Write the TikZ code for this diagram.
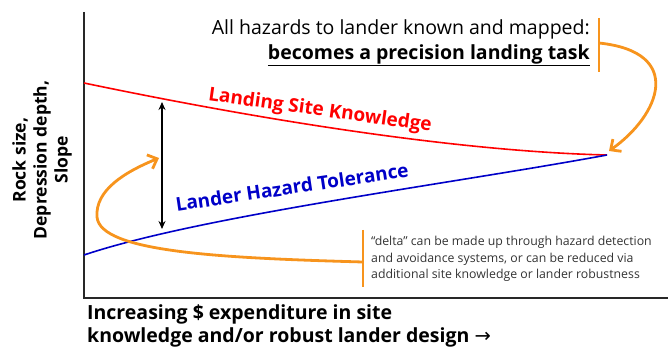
\documentclass[tikz,border=0pt]{standalone}
\usepackage{fontspec}
\setmainfont{Open Sans}
\newfontfamily\symfont{DejaVu Sans}
\usetikzlibrary{arrows.meta}
\definecolor{hazorange}{RGB}{247,148,29}
\definecolor{tolblue}{RGB}{0,0,200}
\definecolor{axisgray}{RGB}{40,40,40}
\tikzset{
  curvelabel/.style={font=\bfseries\fontsize{19}{21}\selectfont, inner sep=0pt},
  bracketline/.style={hazorange, line width=2.8pt},
  callout/.style={hazorange, line width=2.8pt, -{Straight Barb[length=8pt,width=15pt,line width=2.8pt]}},
}
\begin{document}
\begin{tikzpicture}[x=1pt,y=-1pt]
\useasboundingbox (0,0) rectangle (670,350);
% axes
\coordinate (ytop) at (84,12);
\coordinate (origin) at (84,298);
\coordinate (xend) at (668,298);
\draw[axisgray, line width=1.6pt] (ytop) -- (origin) -- (xend);
% curves
\coordinate (ks0) at (84,83);
\coordinate (meet) at (607,155);
\coordinate (lt0) at (84,255);
\draw[red, line width=1.6pt] (ks0) .. controls (300,128) and (480,152) .. (meet);
\draw[tolblue, line width=1.6pt] (lt0) .. controls (200,216) and (450,184) .. (meet);
\node[curvelabel, red, rotate=-8] (kslabel) at (320,111) {Landing Site Knowledge};
\node[curvelabel, tolblue, rotate=8.5] (ltlabel) at (292,187) {Lander Hazard Tolerance};
% delta
\coordinate (dtop) at (162,102);
\coordinate (dbot) at (162,229);
\draw[line width=1.4pt, {Stealth[length=8pt,width=7pt]}-{Stealth[length=8pt,width=7pt]}] (dtop) -- (dbot);
% top callout
\node[font=\fontsize{19.5}{25}\selectfont, align=right, anchor=east, inner sep=0pt] (tasktext) at (590,43)
  {All hazards to lander known and mapped:\\ \textbf{\underline{becomes a precision landing task}}};
\coordinate (tb1) at (599,18);
\coordinate (tb2) at (599,72);
\coordinate (tbm) at (599,43);
\draw[bracketline] (tb1) -- (tb2);
\draw[callout] (tbm) .. controls (685,52) and (660,115) .. (609,151);
% bottom callout
\node[font=\fontsize{12.3}{16.5}\selectfont, text=black!80, align=left, anchor=west, inner sep=0pt] (deltatext) at (371,259)
  {``delta'' can be made up through hazard detection\\ and avoidance systems, or can be reduced via\\ additional site knowledge or lander robustness};
\coordinate (bb1) at (363,230);
\coordinate (bb2) at (363,287);
\coordinate (bbm) at (363,262);
\draw[bracketline] (bb1) -- (bb2);
\draw[callout] (bbm) .. controls (220,258) and (100,252) .. (97,217) .. controls (95,190) and (125,172) .. (159,158);
% axis labels
\node[font=\bfseries\fontsize{17.5}{21}\selectfont, align=center, rotate=90] (ylabel) at (42,160)
  {Rock size,\\ Depression depth,\\ Slope};
\node[font=\bfseries\fontsize{19.5}{23}\selectfont, align=left, anchor=north west, inner sep=0pt] (xlabel) at (87,304)
  {Increasing \$ expenditure in site\\ knowledge and/or robust lander design {\mdseries\symfont →}};
\end{tikzpicture}
\end{document}
